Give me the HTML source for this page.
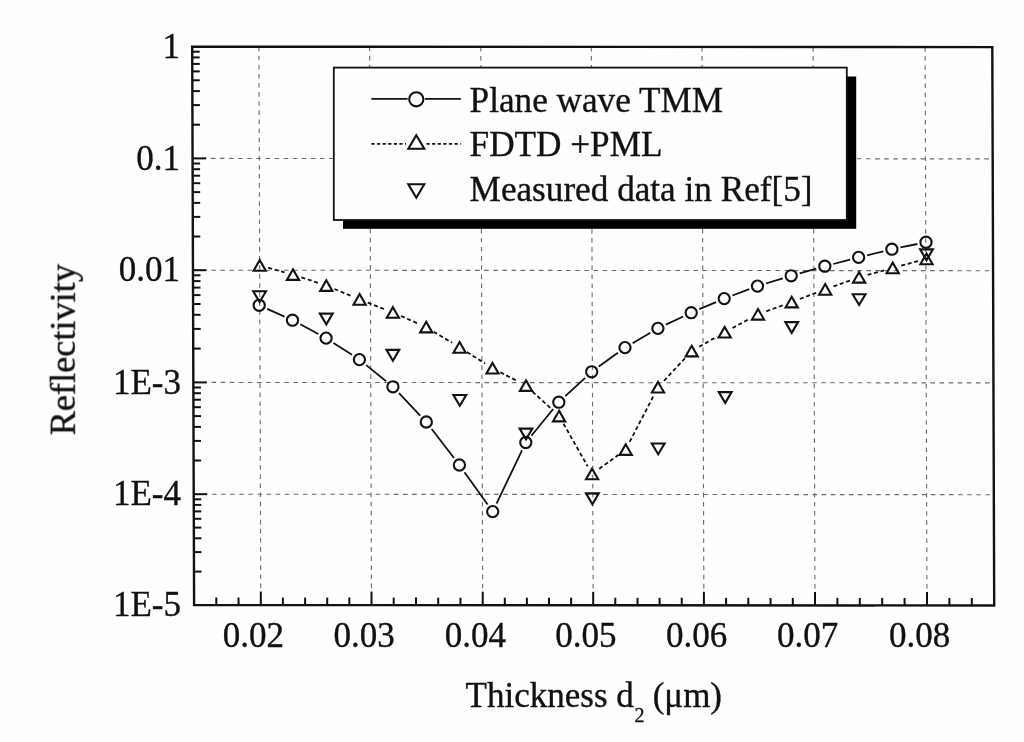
<!DOCTYPE html>
<html lang="en"><head><meta charset="utf-8"><title>Reflectivity vs thickness</title>
<style>html,body{margin:0;padding:0;background:#fefefe}svg{display:block}</style></head>
<body>
<svg width="1024" height="742" viewBox="0 0 1024 742">
<defs><filter id="soft" x="0" y="0" width="100%" height="100%" filterUnits="userSpaceOnUse" color-interpolation-filters="sRGB"><feGaussianBlur stdDeviation="0.4"/></filter></defs>
<rect width="1024" height="742" fill="#fefefe"/>
<g filter="url(#soft)">
<g stroke="#6a6a6a" stroke-width="1.1" stroke-dasharray="4.6 4.5" fill="none">
<line x1="192.6" y1="158.4" x2="992.7" y2="158.9"/>
<line x1="193" y1="270.2" x2="993.1" y2="270.7"/>
<line x1="193.3" y1="382.4" x2="993.4" y2="382.9"/>
<line x1="193.7" y1="494.2" x2="993.8" y2="494.7"/>
<line x1="258.9" y1="46.6" x2="260.8" y2="605"/>
<line x1="369.6" y1="46.7" x2="371.5" y2="605.1"/>
<line x1="480.8" y1="46.8" x2="482.7" y2="605.2"/>
<line x1="591.3" y1="46.9" x2="593.2" y2="605.2"/>
<line x1="702" y1="46.9" x2="703.9" y2="605.3"/>
<line x1="813.1" y1="47" x2="815" y2="605.4"/>
<line x1="925.1" y1="47.1" x2="927" y2="605.5"/>
</g>
<g stroke="#111" stroke-width="2" fill="none">
<line x1="192.5" y1="124.7" x2="200" y2="124.7"/>
<line x1="192.4" y1="105.1" x2="199.9" y2="105.1"/>
<line x1="192.4" y1="91.1" x2="199.9" y2="91.1"/>
<line x1="192.3" y1="80.3" x2="199.8" y2="80.3"/>
<line x1="192.3" y1="71.4" x2="199.8" y2="71.4"/>
<line x1="192.3" y1="63.9" x2="199.8" y2="63.9"/>
<line x1="192.2" y1="57.4" x2="199.7" y2="57.4"/>
<line x1="192.2" y1="51.7" x2="199.7" y2="51.7"/>
<line x1="192.6" y1="158.4" x2="206.1" y2="158.4"/>
<line x1="192.8" y1="236.5" x2="200.3" y2="236.5"/>
<line x1="192.8" y1="216.9" x2="200.3" y2="216.9"/>
<line x1="192.7" y1="202.9" x2="200.2" y2="202.9"/>
<line x1="192.7" y1="192.1" x2="200.2" y2="192.1"/>
<line x1="192.7" y1="183.2" x2="200.2" y2="183.2"/>
<line x1="192.6" y1="175.7" x2="200.1" y2="175.7"/>
<line x1="192.6" y1="169.2" x2="200.1" y2="169.2"/>
<line x1="192.6" y1="163.5" x2="200.1" y2="163.5"/>
<line x1="193" y1="270.2" x2="206.5" y2="270.2"/>
<line x1="193.2" y1="348.6" x2="200.7" y2="348.6"/>
<line x1="193.2" y1="328.9" x2="200.7" y2="328.9"/>
<line x1="193.1" y1="314.8" x2="200.6" y2="314.8"/>
<line x1="193.1" y1="304" x2="200.6" y2="304"/>
<line x1="193" y1="295.1" x2="200.5" y2="295.1"/>
<line x1="193" y1="287.6" x2="200.5" y2="287.6"/>
<line x1="193" y1="281.1" x2="200.5" y2="281.1"/>
<line x1="193" y1="275.3" x2="200.5" y2="275.3"/>
<line x1="193.3" y1="382.4" x2="206.8" y2="382.4"/>
<line x1="193.6" y1="460.5" x2="201.1" y2="460.5"/>
<line x1="193.5" y1="440.9" x2="201" y2="440.9"/>
<line x1="193.5" y1="426.9" x2="201" y2="426.9"/>
<line x1="193.5" y1="416.1" x2="201" y2="416.1"/>
<line x1="193.4" y1="407.2" x2="200.9" y2="407.2"/>
<line x1="193.4" y1="399.7" x2="200.9" y2="399.7"/>
<line x1="193.4" y1="393.2" x2="200.9" y2="393.2"/>
<line x1="193.4" y1="387.5" x2="200.9" y2="387.5"/>
<line x1="193.7" y1="494.2" x2="207.2" y2="494.2"/>
<line x1="194" y1="571.6" x2="201.5" y2="571.6"/>
<line x1="193.9" y1="552.1" x2="201.4" y2="552.1"/>
<line x1="193.9" y1="538.3" x2="201.4" y2="538.3"/>
<line x1="193.8" y1="527.6" x2="201.3" y2="527.6"/>
<line x1="193.8" y1="518.8" x2="201.3" y2="518.8"/>
<line x1="193.8" y1="511.4" x2="201.3" y2="511.4"/>
<line x1="193.8" y1="504.9" x2="201.3" y2="504.9"/>
<line x1="193.7" y1="499.3" x2="201.2" y2="499.3"/>
<line x1="216.3" y1="605" x2="216.3" y2="597.5"/>
<line x1="238.6" y1="605" x2="238.5" y2="597.5"/>
<line x1="260.8" y1="605" x2="260.8" y2="591.5"/>
<line x1="282.9" y1="605.1" x2="282.9" y2="597.6"/>
<line x1="305.1" y1="605.1" x2="305.1" y2="597.6"/>
<line x1="327.2" y1="605.1" x2="327.2" y2="597.6"/>
<line x1="349.4" y1="605.1" x2="349.3" y2="597.6"/>
<line x1="371.5" y1="605.1" x2="371.5" y2="591.6"/>
<line x1="393.7" y1="605.1" x2="393.7" y2="597.6"/>
<line x1="416" y1="605.1" x2="416" y2="597.6"/>
<line x1="438.2" y1="605.2" x2="438.2" y2="597.7"/>
<line x1="460.5" y1="605.2" x2="460.4" y2="597.7"/>
<line x1="482.7" y1="605.2" x2="482.7" y2="591.7"/>
<line x1="504.8" y1="605.2" x2="504.8" y2="597.7"/>
<line x1="526.9" y1="605.2" x2="526.9" y2="597.7"/>
<line x1="549" y1="605.2" x2="549" y2="597.7"/>
<line x1="571.1" y1="605.2" x2="571.1" y2="597.7"/>
<line x1="593.2" y1="605.2" x2="593.2" y2="591.8"/>
<line x1="615.3" y1="605.3" x2="615.3" y2="597.8"/>
<line x1="637.5" y1="605.3" x2="637.5" y2="597.8"/>
<line x1="659.6" y1="605.3" x2="659.6" y2="597.8"/>
<line x1="681.8" y1="605.3" x2="681.7" y2="597.8"/>
<line x1="703.9" y1="605.3" x2="703.9" y2="591.8"/>
<line x1="726.1" y1="605.3" x2="726.1" y2="597.8"/>
<line x1="748.3" y1="605.3" x2="748.3" y2="597.8"/>
<line x1="770.6" y1="605.4" x2="770.5" y2="597.9"/>
<line x1="792.8" y1="605.4" x2="792.8" y2="597.9"/>
<line x1="815" y1="605.4" x2="815" y2="591.9"/>
<line x1="837.4" y1="605.4" x2="837.4" y2="597.9"/>
<line x1="859.8" y1="605.4" x2="859.8" y2="597.9"/>
<line x1="882.2" y1="605.4" x2="882.2" y2="597.9"/>
<line x1="904.6" y1="605.4" x2="904.6" y2="597.9"/>
<line x1="927" y1="605.5" x2="927" y2="592"/>
<line x1="949.4" y1="605.5" x2="949.4" y2="598"/>
<line x1="971.8" y1="605.5" x2="971.8" y2="598"/>
</g>
<polygon points="192.2,46.6 992.3,47.1 994.2,605.5 194.1,605" fill="none" stroke="#111" stroke-width="2.4"/>
<path d="M267.2 308.9L284.5 316.6M300.3 324.3L318.3 334M333.5 342.9L352 354.8M366.2 365.1L386.1 381.3M399 393.2L420.2 415.6M431.7 429L454 458M464.5 472.2L487.6 504.4M496.5 503.7L522 450.4M531.4 435.7L553.2 409M565.3 396.2L585.2 377.8M598.8 366.6L617.9 352.8M632.6 343.2L650.3 332.8M665.9 324.6L683.2 316.5M699.3 309.2L716.1 302.1M732.4 295.5L749.3 289.2M765.9 283.5L782.8 278.4M799.7 273.4L816.3 268.6M833.3 264L850.1 259.6M867.1 255.3L883.4 251.3M900.5 247.4L917.4 244" stroke="#111" stroke-width="1.8" fill="none"/>
<path d="M268.2 267.7L284.5 272.3M301.4 277.4L317.9 282.8M334.4 289L351.5 296M367.8 302.6L384.7 309.3M401 316L418.1 323.6M433.7 331.7L452.1 342.8M467 352.1L485.1 363.5M500.3 372.3L518.2 381.5M532.5 391.6L552.6 410.1M563.5 423.7L587.7 466.4M599.2 468.8L618.6 454.8M629.7 441.8L654 395M664 380.8L685.7 357.5M699.3 346.7L717.1 336.6M732.5 328L750.2 318.5M766.3 311.3L783.4 305.1M799.9 299L817 292.5M833.5 286.4L850.8 280.3M867.6 274.9L884.2 270.3M901.2 265.6L918 261.2" stroke="#111" stroke-width="1.8" stroke-dasharray="4 2.7" fill="none"/>
<g stroke="#111" stroke-width="2.1" fill="none" stroke-linejoin="miter">
<path d="M259.6 302L266 291.2L253.2 291.2ZM326.3 324.4L332.7 313.6L319.9 313.6ZM392.9 360.7L399.3 349.9L386.5 349.9ZM459.8 405.8L466.2 395L453.4 395ZM526 439.4L532.4 428.6L519.6 428.6ZM592.4 504.2L598.8 493.4L586 493.4ZM658.2 454.3L664.6 443.5L651.8 443.5ZM725.2 402.9L731.6 392.1L718.8 392.1ZM791.7 332.9L798.1 322.1L785.3 322.1ZM859.1 305L865.5 294.2L852.7 294.2ZM926.5 260.2L932.9 249.4L920.1 249.4Z"/>
<path d="M259.7 260.1L265.8 270.7L253.6 270.7ZM293 269.3L299.1 279.9L286.9 279.9ZM326.3 280.3L332.4 290.9L320.2 290.9ZM359.6 294.1L365.7 304.7L353.5 304.7ZM392.9 307.2L399 317.8L386.8 317.8ZM426.2 321.8L432.3 332.4L420.1 332.4ZM459.6 342.1L465.7 352.7L453.5 352.7ZM492.5 362.9L498.6 373.5L486.4 373.5ZM526 380.3L532.1 390.9L519.9 390.9ZM559.1 410.8L565.2 421.4L553 421.4ZM592.1 468.7L598.2 479.3L586 479.3ZM625.7 444.3L631.8 454.9L619.6 454.9ZM658 381.9L664.1 392.5L651.9 392.5ZM691.7 345.8L697.8 356.4L685.6 356.4ZM724.7 326.9L730.8 337.5L718.6 337.5ZM758 309L764.1 319.6L751.9 319.6ZM791.7 296.8L797.8 307.4L785.6 307.4ZM825.2 284.1L831.3 294.7L819.1 294.7ZM859.1 272L865.2 282.6L853 282.6ZM892.7 262.6L898.8 273.2L886.6 273.2ZM926.5 253.6L932.6 264.2L920.4 264.2Z"/>
<circle cx="259.2" cy="305.3" r="5.6"/>
<circle cx="292.5" cy="320.2" r="5.6"/>
<circle cx="326.1" cy="338.1" r="5.6"/>
<circle cx="359.4" cy="359.6" r="5.6"/>
<circle cx="392.9" cy="386.8" r="5.6"/>
<circle cx="426.3" cy="422" r="5.6"/>
<circle cx="459.4" cy="465" r="5.6"/>
<circle cx="492.7" cy="511.6" r="5.6"/>
<circle cx="525.8" cy="442.5" r="5.6"/>
<circle cx="558.8" cy="402.2" r="5.6"/>
<circle cx="591.7" cy="371.8" r="5.6"/>
<circle cx="625" cy="347.6" r="5.6"/>
<circle cx="657.9" cy="328.4" r="5.6"/>
<circle cx="691.2" cy="312.7" r="5.6"/>
<circle cx="724.2" cy="298.6" r="5.6"/>
<circle cx="757.5" cy="286.1" r="5.6"/>
<circle cx="791.2" cy="275.8" r="5.6"/>
<circle cx="824.8" cy="266.2" r="5.6"/>
<circle cx="858.6" cy="257.4" r="5.6"/>
<circle cx="891.9" cy="249.2" r="5.6"/>
<circle cx="926" cy="242.2" r="5.6"/>
</g>
<rect x="343" y="76.5" width="513.2" height="152.3" fill="#000"/>
<rect x="333.8" y="67.6" width="513" height="152.4" fill="#fefefe" stroke="#111" stroke-width="1.8"/>
<g stroke="#111" fill="none">
<path d="M371.4 98.9H407.6M425 98.9H460.8" stroke-width="1.6"/>
<path d="M371.4 143.9H406M426.5 143.9H460.8" stroke-width="1.6" stroke-dasharray="3.2 2.4"/>
<circle cx="416.3" cy="99.3" r="7.1" stroke-width="2.1"/>
<path d="M416.3 135.2L424.3 148.8L408.3 148.8Z" stroke-width="2.1"/>
<path d="M416.3 197.7L424.3 184.2L408.3 184.2Z" stroke-width="2.1"/>
</g>
<g font-family="'Liberation Serif', 'Times New Roman', serif" font-size="35" fill="#111" stroke="#111" stroke-width="0.35">
<text x="469.6" y="111.6" font-size="35.2">Plane wave TMM</text>
<text x="469.6" y="156.2" font-size="35.2">FDTD +PML</text>
<text x="469.6" y="201.3" font-size="35.2">Measured data in Ref[5]</text>
<text x="180" y="57.8" text-anchor="end">1</text>
<text x="180" y="169.6" text-anchor="end">0.1</text>
<text x="180" y="281.4" text-anchor="end">0.01</text>
<text x="181" y="393.6" text-anchor="end">1E-3</text>
<text x="181" y="505.4" text-anchor="end">1E-4</text>
<text x="181" y="616.2" text-anchor="end">1E-5</text>
<text x="222.8" y="646.8">0.02</text>
<text x="333.5" y="646.8">0.03</text>
<text x="444.7" y="646.8">0.04</text>
<text x="555.2" y="646.8">0.05</text>
<text x="665.9" y="646.8">0.06</text>
<text x="777" y="646.8">0.07</text>
<text x="889" y="646.8">0.08</text>
<text x="465.6" y="706.9">Thickness d<tspan font-size="20" dy="14.6" dx="0.8">2</tspan><tspan dy="-14.6" dx="-0.6"> (μm)</tspan></text>
<text transform="translate(74.8 435.4) rotate(-90)" font-size="36.3">Reflectivity</text>
</g>
</g>
</svg>
</body></html>
